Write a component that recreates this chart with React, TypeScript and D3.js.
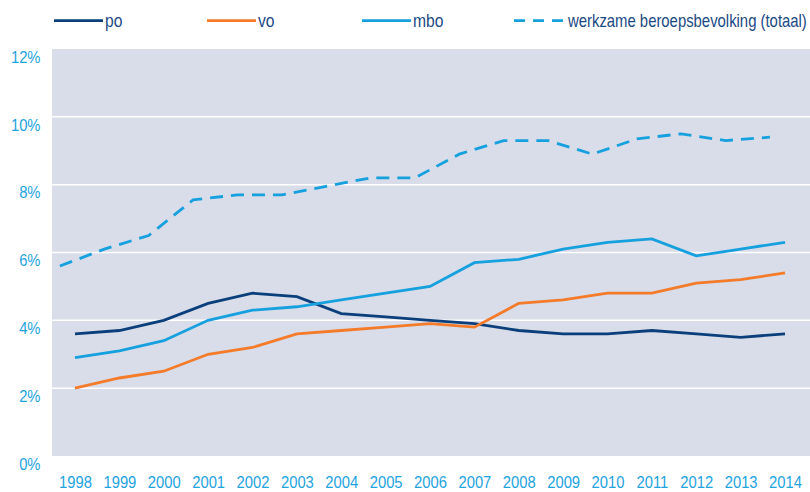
import * as d3 from "d3";
import {useEffect, useRef} from "react";

const years = [1998, 1999, 2000, 2001, 2002, 2003, 2004, 2005, 2006, 2007, 2008, 2009, 2010, 2011, 2012, 2013, 2014];
const po = [3.6, 3.7, 4.0, 4.5, 4.8, 4.7, 4.2, 4.1, 4.0, 3.9, 3.7, 3.6, 3.6, 3.7, 3.6, 3.5, 3.6];
const vo = [2.0, 2.3, 2.5, 3.0, 3.2, 3.6, 3.7, 3.8, 3.9, 3.8, 4.5, 4.6, 4.8, 4.8, 5.1, 5.2, 5.4];
const mbo = [2.9, 3.1, 3.4, 4.0, 4.3, 4.4, 4.6, 4.8, 5.0, 5.7, 5.8, 6.1, 6.3, 6.4, 5.9, 6.1, 6.3];
const totaal = [5.6, 6.1, 6.5, 7.55, 7.7, 7.7, 7.95, 8.2, 8.2, 8.9, 9.3, 9.3, 8.9, 9.35, 9.5, 9.3, 9.4];
const yTicks = [0, 2, 4, 6, 8, 10, 12];

const series = [
    {name: "po", values: po, color: "#0b3f7b", dashed: false, shift: 0},
    {name: "vo", values: vo, color: "#f47b2a", dashed: false, shift: 0},
    {name: "mbo", values: mbo, color: "#16a0de", dashed: false, shift: 0},
    {name: "werkzame beroepsbevolking (totaal)", values: totaal, color: "#16a0de", dashed: true, shift: -0.34},
];

const font = "'Liberation Sans', Arial, sans-serif";
const squeeze = 0.87; // the original uses a condensed face

export default function App() {
    const svgRef = useRef(null);

    useEffect(() => {
        if (!svgRef.current) return;
        const svg = d3.select(svgRef.current);
        svg.selectAll("*").remove();

        const width = 810;
        const height = 492;
        const plotLeft = 52;
        const plotRight = 810;
        const plotTop = 49;
        const plotBottom = 456;

        const x = d3.scalePoint()
            .domain(years.map(String))
            .range([75, 785]);

        const y = d3.scaleLinear()
            .domain([0, 12])
            .range([plotBottom, plotTop]);

        svg.attr("width", width).attr("height", height);

        // background of the plot
        svg.append("rect")
            .attr("x", plotLeft)
            .attr("y", plotTop)
            .attr("width", plotRight - plotLeft)
            .attr("height", plotBottom - plotTop)
            .attr("fill", "#d8dde9");

        // grid lines
        svg.append("g")
            .selectAll("line")
            .data(yTicks.filter(d => d > 0 && d < 12))
            .join("line")
            .attr("x1", plotLeft)
            .attr("x2", plotRight)
            .attr("y1", d => y(d))
            .attr("y2", d => y(d))
            .attr("stroke", "#ffffff")
            .attr("stroke-width", 1.5);

        // y axis (labels hang just below their grid line)
        const yAxis = svg.append("g")
            .attr("transform", `translate(${plotLeft},0)`)
            .call(d3.axisLeft(y).tickValues(yTicks).tickFormat(d => `${d}%`).tickSize(0));
        yAxis.select(".domain").remove();
        yAxis.selectAll("text")
            .attr("fill", "#1ea3df")
            .attr("font-family", font)
            .attr("font-size", 17)
            .attr("x", -11.5 / squeeze)
            .attr("dy", "0.78em")
            .attr("transform", `scale(${squeeze},1)`);

        // x axis
        const xAxis = svg.append("g")
            .attr("transform", `translate(0,${plotBottom})`)
            .call(d3.axisBottom(x).tickSize(0).tickPadding(19.8));
        xAxis.select(".domain").remove();
        xAxis.selectAll("text")
            .attr("fill", "#1ea3df")
            .attr("font-family", font)
            .attr("font-size", 17)
            .attr("transform", `scale(${squeeze},1)`);

        // lines
        const step = x.step();
        series.forEach(s => {
            const line = d3.line()
                .x((d, i) => x(String(years[i])) + s.shift * step)
                .y(d => y(d));
            svg.append("path")
                .datum(s.values)
                .attr("d", line)
                .attr("fill", "none")
                .attr("stroke", s.color)
                .attr("stroke-width", 2.8)
                .attr("stroke-dasharray", s.dashed ? "13,8" : null);
        });

        // legend
        const legendX = [54, 207, 362, 514];
        const legend = svg.append("g");
        series.forEach((s, i) => {
            legend.append("line")
                .attr("x1", legendX[i])
                .attr("x2", legendX[i] + 49)
                .attr("y1", 20.7)
                .attr("y2", 20.7)
                .attr("stroke", s.color)
                .attr("stroke-width", 2.8)
                .attr("stroke-dasharray", s.dashed ? "11,8" : null);
            const t = legend.append("text")
                .attr("x", 0)
                .attr("y", 0)
                .attr("fill", "#1b4a85")
                .attr("font-family", font)
                .attr("font-size", 18)
                .text(s.name);
            let sx = squeeze;
            if (s.dashed) {
                const len = t.node().getComputedTextLength();
                sx = len > 0 ? 239 / len : squeeze;
            }
            t.attr("transform", `translate(${legendX[i] + (s.dashed ? 54 : 51)},26.5) scale(${sx},1)`);
        });
    }, []);

    return <svg ref={svgRef} style={{position: "absolute", left: 0, top: 0, display: "block"}}></svg>;
}
